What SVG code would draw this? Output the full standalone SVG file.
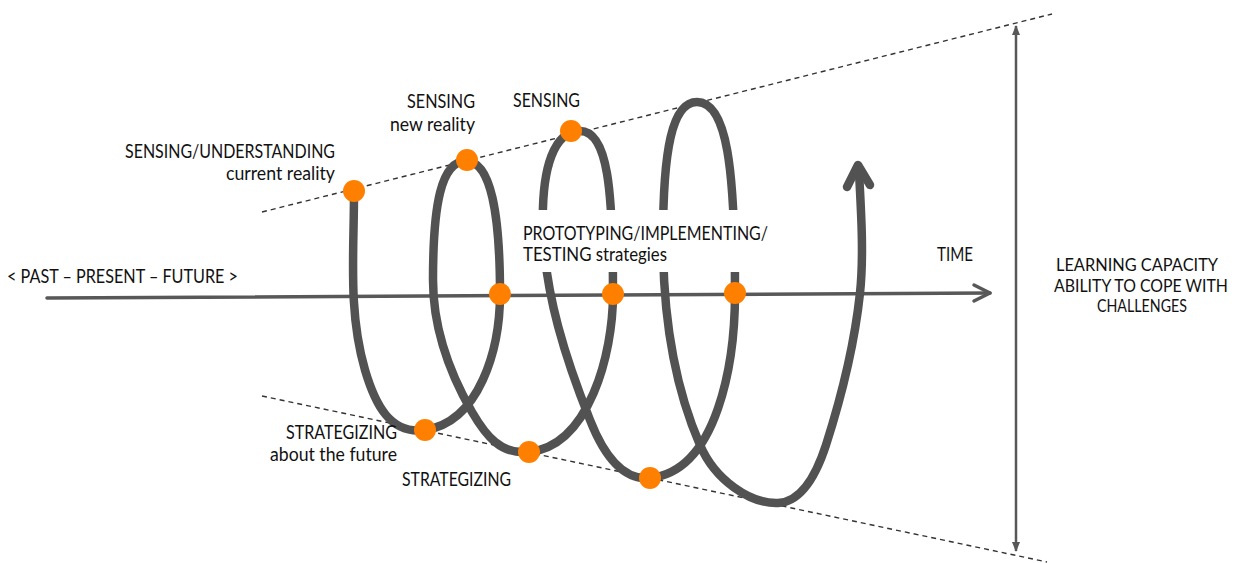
<svg xmlns="http://www.w3.org/2000/svg" width="1237" height="563" viewBox="0 0 1237 563">
  <defs>
    <style>
      .lbl { font-family: Lato, "Liberation Sans", "DejaVu Sans", sans-serif; font-size: 18.5px; fill: #111; }
      .mid { text-anchor: middle; font-size: 17.5px; }
      .bound { fill: none; stroke: #333; stroke-width: 1.4; stroke-dasharray: 5 4; }
      .spiral { fill: none; stroke: #525252; stroke-width: 8.5; stroke-linecap: round; stroke-linejoin: round; }
      .axis { fill: none; stroke: #585858; stroke-width: 3.5; stroke-linecap: round; stroke-linejoin: round; }
      .stage { fill: #ff8000; }
    </style>
    <marker id="tip" viewBox="0 0 10 10" refX="9" refY="5" markerWidth="4" markerHeight="4" orient="auto-start-reverse" markerUnits="strokeWidth">
      <path d="M0,1 L10,5 L0,9 Z" fill="#585858"/>
    </marker>
  </defs>
  <rect width="1237" height="563" fill="#fff"/>

  <g id="connectors">
    <!-- widening boundaries of the learning cone -->
    <line class="bound" x1="262" y1="212" x2="1052" y2="14"/>
    <line class="bound" x1="262" y1="396" x2="1047" y2="562"/>

    <!-- time axis -->
    <g id="time-axis">
      <line class="axis" x1="47" y1="298" x2="990" y2="293"/>
      <polyline class="axis" points="974,285 990,293 974,301"/>
    </g>

    <!-- learning capacity range -->
    <line id="capacity-arrow" x1="1016" y1="26" x2="1016" y2="551" stroke="#585858" stroke-width="2.5" marker-start="url(#tip)" marker-end="url(#tip)"/>

    <!-- learning spiral -->
    <g id="spiral">
      <path class="spiral" d="M354 193
        C354 253 348 312 365 370
        C375 404 390 435 425 430
        C479.5 422 500 349 500 294
        C500 214 491 161 466 161
        C441 161 433 205 433 280
        C433 326 449 372 472 412
        C486 436 501 455 529 452
        C589 446 613 354 613 294
        C613 190 608 131 580 131
        C555 131 541 165 543 230
        C545 295 566 360 590 420
        C601 448 620 481 650 478
        C718 471 735 361 735 293
        C735 168 727 102 697 102
        C672 102 663 150 663 240
        C663 310 673 383 700 445
        C715 480 750 504 778 503
        C798 502 814 482 826 445
        C842 395 855 340 860 293
        C864 255 861 210 859 172"/>
      <polyline class="spiral" stroke-width="6" points="847,187 858,165 870,185"/>
    </g>
    <!-- clear space behind the prototyping label -->
    <rect x="518" y="210" width="262" height="62" fill="#fff"/>
  </g>

  <g id="stages">
    <circle id="stage-sense-current" class="stage" cx="354" cy="191" r="11"/>
    <circle id="stage-sense-new" class="stage" cx="467" cy="160" r="11"/>
    <circle id="stage-sense-3" class="stage" cx="571" cy="131" r="11"/>
    <circle id="stage-proto-1" class="stage" cx="500" cy="294" r="11"/>
    <circle id="stage-proto-2" class="stage" cx="613" cy="294" r="11"/>
    <circle id="stage-proto-3" class="stage" cx="735" cy="293" r="11"/>
    <circle id="stage-strat-1" class="stage" cx="425" cy="430" r="11"/>
    <circle id="stage-strat-2" class="stage" cx="529" cy="452" r="11"/>
    <circle id="stage-strat-3" class="stage" cx="650" cy="478" r="11"/>
  </g>

  <g id="labels">
    <g id="label-sense-current">
      <text class="lbl" x="125" y="158" textLength="210" lengthAdjust="spacingAndGlyphs">SENSING/UNDERSTANDING</text>
      <text class="lbl" x="226" y="180" textLength="109" lengthAdjust="spacingAndGlyphs">current reality</text>
    </g>
    <g id="label-sense-new">
      <text class="lbl" x="407" y="108" textLength="68" lengthAdjust="spacingAndGlyphs">SENSING</text>
      <text class="lbl" x="390" y="131" textLength="85" lengthAdjust="spacingAndGlyphs">new reality</text>
    </g>
    <g id="label-sense-3">
      <text class="lbl" x="513" y="107" textLength="67" lengthAdjust="spacingAndGlyphs">SENSING</text>
    </g>
    <g id="label-proto">
      <text class="lbl" x="523" y="240" textLength="245" lengthAdjust="spacingAndGlyphs">PROTOTYPING/IMPLEMENTING/</text>
      <text class="lbl" x="523" y="261" textLength="144" lengthAdjust="spacingAndGlyphs">TESTING strategies</text>
    </g>
    <g id="label-timeline">
      <text class="lbl" x="7" y="283" textLength="231" lengthAdjust="spacingAndGlyphs">&lt; PAST – PRESENT – FUTURE &gt;</text>
    </g>
    <g id="label-time">
      <text class="lbl" x="937" y="261" textLength="36" lengthAdjust="spacingAndGlyphs">TIME</text>
    </g>
    <g id="label-capacity">
      <text class="lbl mid" x="1137" y="271" textLength="162" lengthAdjust="spacingAndGlyphs">LEARNING CAPACITY</text>
      <text class="lbl mid" x="1141" y="292" textLength="174" lengthAdjust="spacingAndGlyphs">ABILITY TO COPE WITH</text>
      <text class="lbl mid" x="1142" y="312" textLength="90" lengthAdjust="spacingAndGlyphs">CHALLENGES</text>
    </g>
    <g id="label-strat-1">
      <text class="lbl" x="286" y="439" textLength="111" lengthAdjust="spacingAndGlyphs">STRATEGIZING</text>
      <text class="lbl" x="270" y="461" textLength="127" lengthAdjust="spacingAndGlyphs">about the future</text>
    </g>
    <g id="label-strat-2">
      <text class="lbl" x="402" y="486" textLength="109" lengthAdjust="spacingAndGlyphs">STRATEGIZING</text>
    </g>
  </g>
</svg>
